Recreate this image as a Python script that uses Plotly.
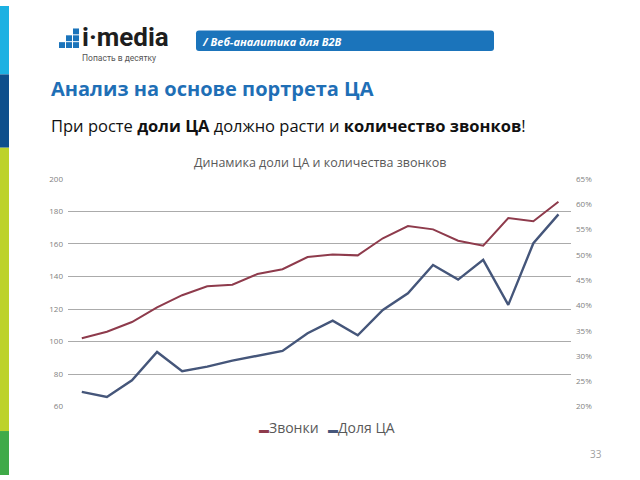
import plotly.graph_objects as go

# ---- data ----
periods = list(range(1, 21))
calls_name = "Звонки"
share_name = "Доля ЦА"
calls = [102, 106, 112, 121, 128.5, 134, 135, 141.5, 144.5, 152, 153.5, 153, 163.5, 171, 169, 162, 159, 176, 174, 186]
share = [22.9, 21.9, 25.2, 30.8, 27.0, 27.9, 29.1, 30.0, 31.0, 34.5, 37.0, 34.1, 39.1, 42.4, 48.0, 45.1, 49.0, 40.1, 52.3, 58.0]
left_ticks = [60, 80, 100, 120, 140, 160, 180, 200]
right_ticks = [20, 25, 30, 35, 40, 45, 50, 55, 60, 65]

chart_title = "Динамика доли ЦА и количества звонков"
page_title = "Анализ на основе портрета ЦА"
subtitle = "При росте <b>доли ЦА</b> должно расти и <b>количество звонков</b>!"
badge = "/ Веб-аналитика для B2B"
logo_text = "i·media"
logo_sub = "Попасть в десятку"
page_no = "33"

RED = "#8E3B4C"
BLUE = "#45567A"
W, H = 640, 480

def px(x):
    return x / W

def py(y):
    return 1 - y / H

fig = go.Figure()
fig.add_trace(go.Scatter(x=periods, y=calls, name=calls_name, mode="lines",
                         line=dict(color=RED, width=2), yaxis="y"))
fig.add_trace(go.Scatter(x=periods, y=share, name=share_name, mode="lines",
                         line=dict(color=BLUE, width=2.4), yaxis="y2"))

shapes = []
# left decorative strip
for y0, y1, c in [(0, 70, "#1CB1E2"), (70, 145, "#0E4F8C"), (145, 435, "#BDD22B"), (435, 480, "#3FAA48")]:
    shapes.append(dict(type="rect", xref="paper", yref="paper", x0=0, x1=px(9), y0=py(y1), y1=py(y0),
                       fillcolor=c, line=dict(width=0), layer="below"))
# header badge (rounded)
x0, x1, y0, y1, r = 196, 494, 25, 46, 3
path = (f"M {px(x0+r)},{py(y0)} L {px(x1-r)},{py(y0)} Q {px(x1)},{py(y0)} {px(x1)},{py(y0+r)} "
        f"L {px(x1)},{py(y1-r)} Q {px(x1)},{py(y1)} {px(x1-r)},{py(y1)} L {px(x0+r)},{py(y1)} "
        f"Q {px(x0)},{py(y1)} {px(x0)},{py(y1-r)} L {px(x0)},{py(y0+r)} Q {px(x0)},{py(y0)} {px(x0+r)},{py(y0)} Z")
shapes.append(dict(type="path", xref="paper", yref="paper", path=path, fillcolor="#1B74BB", line=dict(width=0)))
# logo squares
for (sx, sy) in [(59, 37), (66, 37), (66, 30), (73, 37), (73, 30), (73, 23)]:
    shapes.append(dict(type="rect", xref="paper", yref="paper", x0=px(sx), x1=px(sx + 6), y0=py(sy + 6), y1=py(sy),
                       fillcolor="#1B74BB", line=dict(width=0)))

def legend_text(color, name):
    return f"<span style='color:{color};font-size:10px'><b>▬</b></span>{name}"

annotations = [
    dict(text=f"<b>{logo_text}</b>", x=px(80), y=py(32), xanchor="left", yanchor="middle", showarrow=False,
         font=dict(family="Roboto", size=26, color="#1E1E1E"), xref="paper", yref="paper"),
    dict(text=logo_sub, x=px(80), y=py(53), xanchor="left", yanchor="middle", showarrow=False,
         font=dict(family="Roboto", size=8.5, color="#555555"), xref="paper", yref="paper"),
    dict(text=f"<b><i>{badge}</i></b>", x=px(200), y=py(36), xanchor="left", yanchor="middle", showarrow=False,
         font=dict(family="Open Sans", size=11, color="white"), xref="paper", yref="paper"),
    dict(text=f"<b>{page_title}</b>", x=px(49), y=py(84), xanchor="left", yanchor="middle", showarrow=False,
         font=dict(family="Open Sans", size=20, color="#1F6FB6"), xref="paper", yref="paper"),
    dict(text=subtitle, x=px(49), y=py(122), xanchor="left", yanchor="middle", showarrow=False,
         font=dict(family="Open Sans", size=16.5, color="#111111"), xref="paper", yref="paper"),
    dict(text=chart_title, x=px(320), y=py(160), xanchor="center", yanchor="middle", showarrow=False,
         font=dict(family="Open Sans", size=12.5, color="#595959"), xref="paper", yref="paper"),
    dict(text=legend_text(RED, calls_name), x=px(257), y=py(431), xanchor="left",
         yanchor="middle", showarrow=False, font=dict(family="Open Sans", size=14, color="#595959"),
         xref="paper", yref="paper"),
    dict(text=legend_text(BLUE, share_name), x=px(326), y=py(431), xanchor="left",
         yanchor="middle", showarrow=False, font=dict(family="Open Sans", size=14, color="#595959"),
         xref="paper", yref="paper"),
    dict(text=page_no, x=px(596), y=py(458), xanchor="center", yanchor="middle", showarrow=False,
         font=dict(family="Open Sans", size=10, color="#A0A0A0"), xref="paper", yref="paper"),
]

fig.update_layout(
    width=W, height=H, margin=dict(l=0, r=0, t=0, b=0),
    paper_bgcolor="white", plot_bgcolor="white", showlegend=False,
    shapes=shapes, annotations=annotations,
    xaxis=dict(domain=[px(68), px(571)], range=[-0.55 + 1, 19.5 + 1], showgrid=False, zeroline=False,
               showticklabels=False, ticks="", showline=False),
    yaxis=dict(domain=[py(410), py(177)], range=[60, 200], tickvals=left_ticks, showgrid=True,
               gridcolor="#ABABAB", gridwidth=1, zeroline=False, ticks="", showline=False,
               tickfont=dict(family="Open Sans", size=8, color="#7F7F7F"), ticklabelstandoff=4),
    yaxis2=dict(domain=[py(410), py(177)], range=[20, 65], overlaying="y", side="right", anchor="x",
                tickvals=right_ticks, ticktext=[f"{v}%" for v in right_ticks], showgrid=False,
                zeroline=False, ticks="", showline=False,
                tickfont=dict(family="Open Sans", size=8, color="#7F7F7F"), ticklabelstandoff=4),
)

fig.write_html("out.html", config={"displayModeBar": False},
               post_script="document.body.style.margin='0';document.body.style.overflow='hidden';")
